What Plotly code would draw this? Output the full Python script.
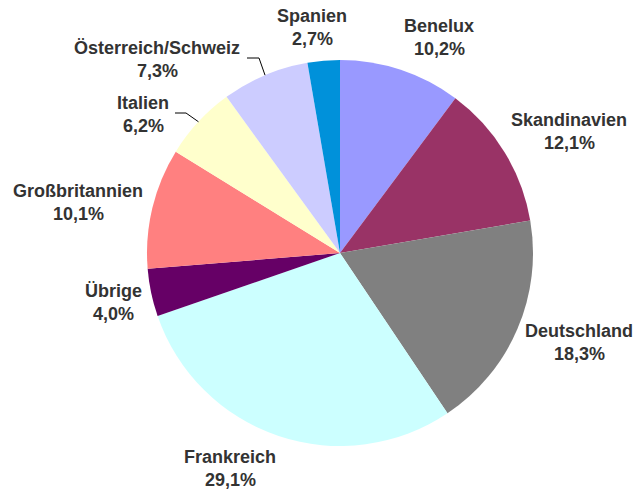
import math
import plotly.graph_objects as go

# ---- data ----
categories = ["Benelux", "Skandinavien", "Deutschland", "Frankreich", "Übrige",
              "Großbritannien", "Italien", "Österreich/Schweiz", "Spanien"]
values = [10.2, 12.1, 18.3, 29.1, 4.0, 10.1, 6.2, 7.3, 2.7]
colors = ["#9999FF", "#993366", "#808080", "#CCFFFF", "#660066",
          "#FF8080", "#FFFFCC", "#CCCCFF", "#0091DA"]

# ---- layout constants (pixels) ----
W, H = 638, 493
CX, CY, R = 340, 253, 193
# label centre of first line (pixels from top-left)
label_pos = {
    "Benelux": (439, 26),
    "Skandinavien": (569, 120),
    "Deutschland": (579, 331),
    "Frankreich": (230, 457),
    "Übrige": (114, 291),
    "Großbritannien": (78, 191),
    "Italien": (143, 103),
    "Österreich/Schweiz": (157, 48),
    "Spanien": (312, 16),
}
# leader line elbows (pixels), for labels that have one
leader_elbow = {
    "Österreich/Schweiz": [(247, 58), (259, 58)],
    "Italien": [(175, 113), (186, 113)],
}
LINE_GAP = 23
TEXT_COLOR = "#333333"
FONT = "Liberation Sans, Arial, sans-serif"
FS = 18


def px(x):
    return x / W


def py(y):
    return 1 - y / H


fig = go.Figure(go.Pie(
    labels=categories, values=values, sort=False, direction="clockwise",
    rotation=0, marker=dict(colors=colors, line=dict(width=0)),
    textinfo="none", hoverinfo="label+percent", showlegend=False,
    domain=dict(x=[px(CX - R), px(CX + R)], y=[py(CY + R), py(CY - R)]),
))

annotations = []
shapes = []
total = sum(values)
cum = 0.0
for cat, v in zip(categories, values):
    mid = (cum + v / 2) / total * 2 * math.pi
    cum += v
    lx, ly = label_pos[cat]
    pct = f"{v:.1f}%".replace(".", ",")
    for i, t in enumerate([cat, pct]):
        annotations.append(dict(
            x=px(lx), y=py(ly + i * LINE_GAP), xref="paper", yref="paper",
            text=f"<b>{t}</b>", showarrow=False, xanchor="center", yanchor="middle",
            font=dict(family=FONT, size=FS, color=TEXT_COLOR)))
    if cat in leader_elbow:
        ex = CX + R * math.sin(mid)
        ey = CY - R * math.cos(mid)
        pts = leader_elbow[cat] + [(ex, ey)]
        path = "M " + " L ".join(f"{px(x)},{py(y)}" for x, y in pts)
        shapes.append(dict(type="path", path=path, xref="paper", yref="paper",
                           line=dict(color="#000000", width=1)))

fig.update_layout(
    width=W, height=H, margin=dict(l=0, r=0, t=0, b=0),
    paper_bgcolor="white", plot_bgcolor="white",
    annotations=annotations, shapes=shapes,
)

fig.write_html("out.html", config={"displayModeBar": False},
               post_script="document.body.style.margin='0';document.body.style.overflow='hidden';")
